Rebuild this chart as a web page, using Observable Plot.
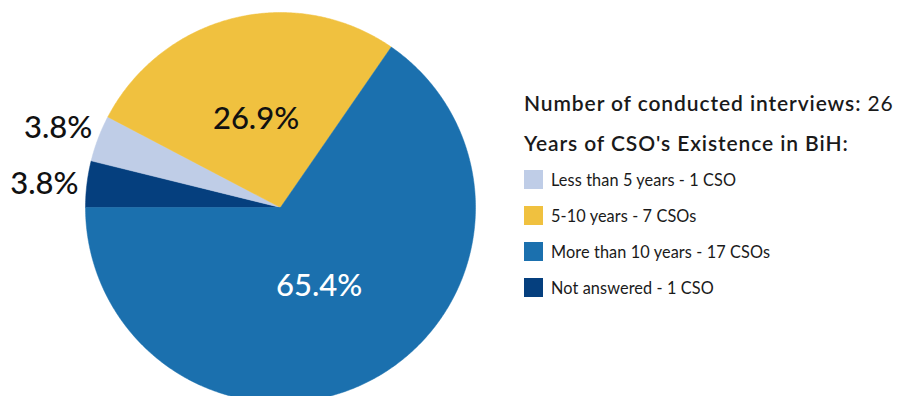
<!DOCTYPE html>
<html>
<head>
<meta charset="utf-8">
<script src="https://cdn.jsdelivr.net/npm/d3@7"></script>
<script src="https://cdn.jsdelivr.net/npm/@observablehq/plot@0.6"></script>
<style>
  body { margin: 0; background: #fff; }
  #wrap { position: relative; width: 902px; height: 396px; overflow: hidden; font-family: Lato, "Open Sans", sans-serif; color: #1a1a1a; }
  #chart { position: absolute; left: 0; top: 0; }
  .hdr { position: absolute; left: 524px; font-size: 21px; font-weight: 600; letter-spacing: 0.9px; white-space: nowrap; line-height: 24px; }
  .hdr span { font-weight: 400; }
  .item { position: absolute; left: 524px; height: 20px; display: flex; align-items: center; font-size: 16.3px; letter-spacing: 0.1px; white-space: nowrap; }
  .sw { width: 19px; height: 19px; margin-right: 8px; }
</style>
</head>
<body>
<div id="wrap">
  <div id="chart"></div>
  <div id="legend"></div>
</div>
<script>
// Data
const categories = ["Less than 5 years", "5-10 years", "More than 10 years", "Not answered"];
const counts = [1, 7, 17, 1];
const legendLabels = ["Less than 5 years - 1 CSO", "5-10 years - 7 CSOs", "More than 10 years - 17 CSOs", "Not answered - 1 CSO"];
const colors = ["#BFCDE7", "#F0C13F", "#1B70AE", "#053F7E"];
const sliceOrder = ["Not answered", "Less than 5 years", "5-10 years", "More than 10 years"];
const labelColors = {"Not answered": "#111", "Less than 5 years": "#111", "5-10 years": "#111", "More than 10 years": "#fff"};
const interviews = 26;
const title1 = "Number of conducted interviews:";
const title2 = "Years of CSO's Existence in BiH:";

const total = d3.sum(counts);
const countOf = Object.fromEntries(categories.map((c, i) => [c, counts[i]]));

// Build slice polygons (compass angle, clockwise from top; start at 9 o'clock)
let a = 270;
const polys = [];
const labels = [];
for (const cat of sliceOrder) {
  const span = countOf[cat] / total * 360;
  const a0 = a, a1 = a + span;
  polys.push({cat, x: 0, y: 0});
  const n = Math.max(2, Math.ceil(span / 0.5));
  for (let k = 0; k <= n; k++) {
    const t = (a0 + (a1 - a0) * k / n) * Math.PI / 180;
    polys.push({cat, x: Math.sin(t), y: Math.cos(t)});
  }
  polys.push({cat, x: 0, y: 0});
  const mid = (a0 + a1) / 2 * Math.PI / 180;
  const frac = countOf[cat] / total;
  const outside = frac < 0.1;
  const r = outside ? 1.22 : 0.46;
  labels.push({cat, outside, x: r * Math.sin(mid), y: r * Math.cos(mid), text: (frac * 100).toFixed(1) + "%"});
  a = a1;
}

const plot = Plot.plot({
  width: 902,
  height: 396,
  marginLeft: 85,
  marginRight: 427,
  marginTop: 12,
  marginBottom: 0,
  x: {domain: [-1, 1], axis: null},
  y: {domain: [-0.9692, 1], axis: null},
  color: {domain: categories, range: colors},
  style: {fontFamily: "Lato, 'Open Sans', sans-serif", overflow: "visible"},
  marks: [
    Plot.line(polys, {x: "x", y: "y", z: "cat", fill: "cat", stroke: "cat", strokeWidth: 0.5}),
    Plot.text(labels.filter(d => !d.outside), {x: "x", y: "y", dy: -1, dx: -3, text: "text", fill: d => labelColors[d.cat], fontSize: 31, fontWeight: 500, letterSpacing: 0.6}),
    Plot.text(labels.filter(d => d.outside), {x: "x", y: "y", dy: 5, text: "text", fill: d => labelColors[d.cat], fontSize: 31, fontWeight: 500, letterSpacing: 0.6})
  ]
});
document.getElementById("chart").appendChild(plot);

// Legend
const leg = document.getElementById("legend");
const h1 = document.createElement("div");
h1.className = "hdr"; h1.style.top = "91px";
h1.innerHTML = title1 + " <span>" + interviews + "</span>";
leg.appendChild(h1);
const h2 = document.createElement("div");
h2.className = "hdr"; h2.style.top = "131px";
h2.textContent = title2;
leg.appendChild(h2);
categories.forEach((c, i) => {
  const d = document.createElement("div");
  d.className = "item"; d.style.top = (169 + i * 36.3) + "px";
  const sw = document.createElement("div");
  sw.className = "sw"; sw.style.background = colors[i];
  d.appendChild(sw);
  const t = document.createElement("span");
  t.textContent = legendLabels[i];
  d.appendChild(t);
  leg.appendChild(d);
});
</script>
</body>
</html>
